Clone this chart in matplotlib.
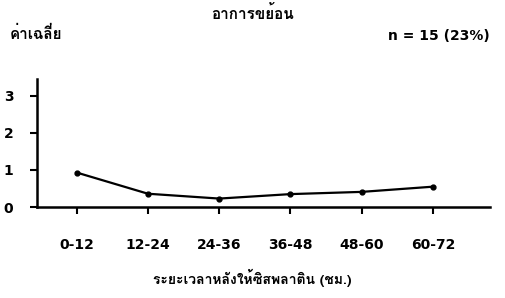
import matplotlib
matplotlib.use("Agg")
import matplotlib.pyplot as plt
from matplotlib import font_manager
from matplotlib.ft2font import FT2Font

# data
periods = ["0-12", "12-24", "24-36", "36-48", "48-60", "60-72"]
mean_score = [0.93, 0.36, 0.23, 0.35, 0.41, 0.55]
y_ticks = [0, 1, 2, 3]

title = "อาการขย้อน"
y_label = "ค่าเฉลี่ย"
x_label = "ระยะเวลาหลังให้ซิสพลาติน (ชม.)"
n_note = "n = 15 (23%)"

# find an installed font that can draw Thai
thai_family = None
for f in font_manager.fontManager.ttflist:
    try:
        if 0x0E2D in FT2Font(f.fname).get_charmap():
            thai_family = f.name
            break
    except Exception:
        pass
families = ([thai_family] if thai_family else []) + ["DejaVu Sans"]
plt.rcParams["font.family"] = families

fig = plt.figure(figsize=(5.05, 2.98), dpi=100)
ax = fig.add_axes([0.073, 0.305, 0.897, 0.43])

x = list(range(len(periods)))
ax.plot(x, mean_score, color="black", lw=1.6, marker="o", ms=3.5)

ax.set_xlim(-0.56, 5.8)
ax.set_ylim(0, 3.45)
ax.set_xticks(x)
ax.set_xticklabels(periods, fontsize=10, fontweight="bold", family="DejaVu Sans")
ax.set_yticks(y_ticks)
ax.set_yticklabels([str(v) for v in y_ticks], fontsize=10, fontweight="bold", family="DejaVu Sans")
ax.tick_params(axis="x", direction="out", length=5, width=1.5, pad=17)
ax.tick_params(axis="y", direction="out", length=5, width=1.5, pad=12)

for side in ["top", "right"]:
    ax.spines[side].set_visible(False)
for side in ["left", "bottom"]:
    ax.spines[side].set_linewidth(1.8)

fig.text(0.5, 0.955, title, ha="center", va="center", fontsize=11, fontweight="bold")
fig.text(0.02, 0.885, y_label, ha="left", va="center", fontsize=11, fontweight="bold")
fig.text(0.768, 0.88, n_note, ha="left", va="center", fontsize=10, fontweight="bold",
         family="DejaVu Sans")
fig.text(0.5, 0.067, x_label, ha="center", va="center", fontsize=10, fontweight="bold")

fig.savefig("out.png", dpi=100)
